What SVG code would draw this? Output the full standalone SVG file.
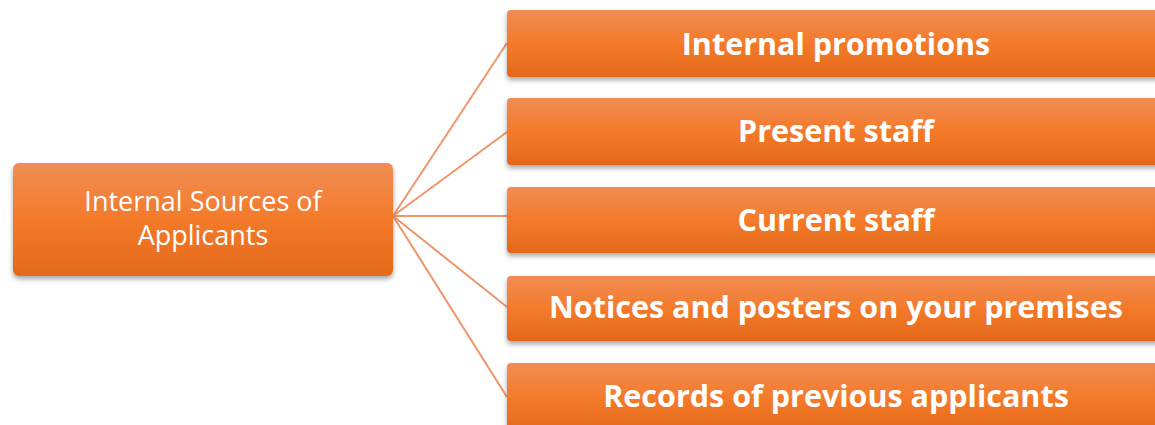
<svg xmlns="http://www.w3.org/2000/svg" width="1155" height="425" viewBox="0 0 1155 425">
<defs>
<linearGradient id="og" x1="0" y1="0" x2="0" y2="1">
<stop offset="0" stop-color="#F08D55"/>
<stop offset="0.5" stop-color="#F47A2A"/>
<stop offset="1" stop-color="#E4691A"/>
</linearGradient>
<filter id="sh" x="-5%" y="-20%" width="110%" height="150%">
<feDropShadow dx="0" dy="3" stdDeviation="2.5" flood-color="#000" flood-opacity="0.35"/>
</filter>
</defs>
<style>
.box{fill:url(#og);filter:url(#sh);}
.t{font-family:"Open Sans","Liberation Sans",sans-serif;fill:#fff;text-anchor:middle;}
.b{font-weight:bold;font-size:30.5px;}
.r{font-size:27px;}
.c{stroke:#F0956A;stroke-width:2;fill:none;}
</style>
<g id="connectors">
<line class="c" x1="393" y1="216" x2="507" y2="43"/>
<line class="c" x1="393" y1="216" x2="507" y2="132"/>
<line class="c" x1="393" y1="216" x2="515" y2="216"/>
<line class="c" x1="393" y1="216" x2="507" y2="307"/>
<line class="c" x1="393" y1="216" x2="507" y2="397"/>
</g>
<g id="root">
<rect class="box" x="13" y="163" width="380" height="113" rx="6"/>
<text class="t r" x="203" y="211">Internal Sources of</text>
<text class="t r" x="203" y="245">Applicants</text>
</g>
<g id="n1">
<rect class="box" x="507" y="10" width="660" height="67" rx="4"/>
<text class="t b" x="836" y="55">Internal promotions</text>
</g>
<g id="n2">
<rect class="box" x="507" y="98" width="660" height="67" rx="4"/>
<text class="t b" x="836" y="142">Present staff</text>
</g>
<g id="n3">
<rect class="box" x="507" y="187" width="660" height="66" rx="4"/>
<text class="t b" x="836" y="231">Current staff</text>
</g>
<g id="n4">
<rect class="box" x="507" y="276" width="660" height="65" rx="4"/>
<text class="t b" x="836" y="318">Notices and posters on your premises</text>
</g>
<g id="n5">
<rect class="box" x="507" y="363" width="660" height="70" rx="4"/>
<text class="t b" x="836" y="407">Records of previous applicants</text>
</g>
</svg>
